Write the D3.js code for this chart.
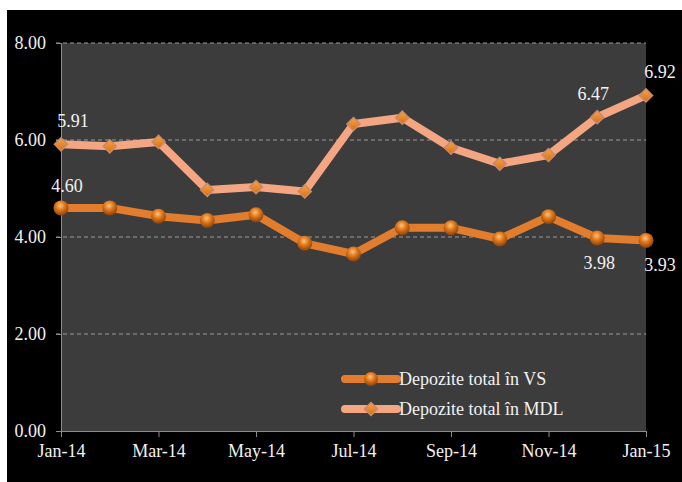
<!DOCTYPE html>
<html>
<head>
<meta charset="utf-8">
<script src="https://cdn.jsdelivr.net/npm/d3@7"></script>
<style>
  body { margin: 0; background: #fff; }
  svg text { font-family: "Liberation Serif", "Times New Roman", Times, "DejaVu Serif", serif !important; fill: #f2f2f2; }
</style>
</head>
<body>
<div id="chart"></div>
<script>
const months = ['Jan-14', 'Feb-14', 'Mar-14', 'Apr-14', 'May-14', 'Jun-14', 'Jul-14',
  'Aug-14', 'Sep-14', 'Oct-14', 'Nov-14', 'Dec-14', 'Jan-15']
const vsValues = [4.60, 4.60, 4.43, 4.34, 4.46, 3.87, 3.65, 4.19, 4.19, 3.96, 4.42, 3.98, 3.93]
const mdlValues = [5.91, 5.87, 5.96, 4.97, 5.03, 4.94, 6.33, 6.46, 5.84, 5.51, 5.69, 6.47, 6.92]
const yTicks = [0, 2, 4, 6, 8]
const xTickLabels = ['Jan-14', 'Mar-14', 'May-14', 'Jul-14', 'Sep-14', 'Nov-14', 'Jan-15']
// which points get a value label
const vsLabelIdx = [0, 11, 12]
const mdlLabelIdx = [0, 11, 12]
const seriesNames = ['Depozite total în VS', 'Depozite total în MDL']

const margin = { top: 43, right: 36, bottom: 51, left: 61 }
const width = 682 - margin.left - margin.right
const height = 482 - margin.top - margin.bottom

const root = d3.select('#chart')
  .append('svg')
  .attr('width', 682)
  .attr('height', 482)

const defs = root.append('defs')
const ball = defs.append('radialGradient')
  .attr('id', 'ball')
  .attr('cx', '45%').attr('cy', '35%').attr('r', '65%')
ball.append('stop').attr('offset', '0%').attr('stop-color', '#ffc27a')
ball.append('stop').attr('offset', '45%').attr('stop-color', '#e0781c')
ball.append('stop').attr('offset', '100%').attr('stop-color', '#8a4308')
const gem = defs.append('linearGradient')
  .attr('id', 'gem')
  .attr('x1', '0%').attr('y1', '0%').attr('x2', '100%').attr('y2', '100%')
gem.append('stop').attr('offset', '0%').attr('stop-color', '#f7a44a')
gem.append('stop').attr('offset', '100%').attr('stop-color', '#d86e12')

// black frame
root.append('rect')
  .attr('x', 7).attr('y', 10)
  .attr('width', 675).attr('height', 472)
  .attr('fill', '#000')

const svg = root.append('g')
  .attr('transform', 'translate(' + margin.left + ',' + margin.top + ')')

svg.append('rect')
  .attr('width', width)
  .attr('height', height)
  .attr('fill', '#3c3c3c')

const xPositionScale = d3.scalePoint()
  .domain(months)
  .range([0, width])

const yPositionScale = d3.scaleLinear()
  .domain([0, 8])
  .range([height, 0])

// gridlines
svg.append('g')
  .selectAll('line')
  .data(yTicks.filter(d => d > 0))
  .enter()
  .append('line')
  .attr('x1', -5)
  .attr('x2', width)
  .attr('y1', d => yPositionScale(d))
  .attr('y2', d => yPositionScale(d))
  .attr('stroke', '#9a9a9a')
  .attr('stroke-width', 1)
  .attr('stroke-dasharray', '4,3')

// y axis
const yAxis = d3.axisLeft(yPositionScale)
  .tickValues(yTicks)
  .tickFormat(d3.format('.2f'))
  .tickSize(5)
  .tickPadding(10)
const yG = svg.append('g').attr('class', 'axis y-axis').call(yAxis)
yG.attr('font-family', null)
yG.select('.domain').attr('stroke', '#8c8c8c')
yG.selectAll('.tick line').attr('stroke', '#8c8c8c')
yG.selectAll('.tick text').attr('font-size', 18).attr('fill', '#f2f2f2')

// x axis
const xAxis = d3.axisBottom(xPositionScale)
  .tickValues(xTickLabels)
  .tickSizeInner(6)
  .tickSizeOuter(0)
  .tickPadding(7)
const xG = svg.append('g')
  .attr('class', 'axis x-axis')
  .attr('transform', 'translate(0,' + height + ')')
  .call(xAxis)
xG.attr('font-family', null)
xG.select('.domain').attr('stroke', '#8c8c8c')
xG.selectAll('.tick line').attr('stroke', '#8c8c8c')
xG.selectAll('.tick text').attr('font-size', 18).attr('fill', '#f2f2f2')

const line = d3.line()
  .x((d, i) => xPositionScale(months[i]))
  .y(d => yPositionScale(d))

// rotated square reads as the excel diamond
const diamond = d3.symbol().type(d3.symbolSquare).size(85)

// MDL line
svg.append('path')
  .datum(mdlValues)
  .attr('d', line)
  .attr('fill', 'none')
  .attr('stroke', '#f4a683')
  .attr('stroke-width', 8)
  .attr('stroke-linejoin', 'round')

svg.selectAll('.mdl-point')
  .data(mdlValues)
  .enter()
  .append('path')
  .attr('class', 'mdl-point')
  .attr('d', diamond)
  .attr('transform', (d, i) => 'translate(' + xPositionScale(months[i]) + ',' + yPositionScale(d) + ') rotate(45)')
  .attr('fill', 'url(#gem)')
  .attr('stroke', '#c98a68')
  .attr('stroke-width', 1.5)

// VS line
svg.append('path')
  .datum(vsValues)
  .attr('d', line)
  .attr('fill', 'none')
  .attr('stroke', '#e27d2e')
  .attr('stroke-width', 8)
  .attr('stroke-linejoin', 'round')

svg.selectAll('.vs-point')
  .data(vsValues)
  .enter()
  .append('circle')
  .attr('class', 'vs-point')
  .attr('cx', (d, i) => xPositionScale(months[i]))
  .attr('cy', d => yPositionScale(d))
  .attr('r', 7.5)
  .attr('fill', 'url(#ball)')

// value labels, nudged like in the excel original
const mdlDx = { 0: 12, 11: -4, 12: 14 }
const vsDx = { 0: 6, 11: 2, 12: 14 }

svg.selectAll('.mdl-label')
  .data(mdlLabelIdx)
  .enter()
  .append('text')
  .attr('class', 'mdl-label')
  .attr('x', i => xPositionScale(months[i]) + mdlDx[i])
  .attr('y', i => yPositionScale(mdlValues[i]) - 17)
  .attr('text-anchor', 'middle')
  .attr('font-size', 18)
  .text(i => mdlValues[i].toFixed(2))

svg.selectAll('.vs-label')
  .data(vsLabelIdx)
  .enter()
  .append('text')
  .attr('class', 'vs-label')
  .attr('x', i => xPositionScale(months[i]) + vsDx[i])
  .attr('y', i => i === 0 ? yPositionScale(vsValues[i]) - 16 : yPositionScale(vsValues[i]) + 31)
  .attr('text-anchor', 'middle')
  .attr('font-size', 18)
  .text(i => vsValues[i].toFixed(2))

// legend
const legend = svg.append('g')
  .attr('transform', 'translate(284,336)')

const legendRows = legend.selectAll('g')
  .data(seriesNames)
  .enter()
  .append('g')
  .attr('transform', (d, i) => 'translate(0,' + i * 30 + ')')

legendRows.append('line')
  .attr('x1', 0).attr('x2', 52)
  .attr('stroke', (d, i) => i === 0 ? '#e27d2e' : '#f4a683')
  .attr('stroke-width', 8)
  .attr('stroke-linecap', 'round')

legendRows.filter((d, i) => i === 0)
  .append('circle')
  .attr('cx', 26)
  .attr('r', 7)
  .attr('fill', 'url(#ball)')

legendRows.filter((d, i) => i === 1)
  .append('path')
  .attr('d', diamond)
  .attr('transform', 'translate(26,0) rotate(45)')
  .attr('fill', 'url(#gem)')
  .attr('stroke', '#c98a68')
  .attr('stroke-width', 1.5)

legendRows.append('text')
  .attr('x', 54)
  .attr('dy', '0.33em')
  .attr('font-size', 18)
  .text(d => d)
</script>
</body>
</html>
